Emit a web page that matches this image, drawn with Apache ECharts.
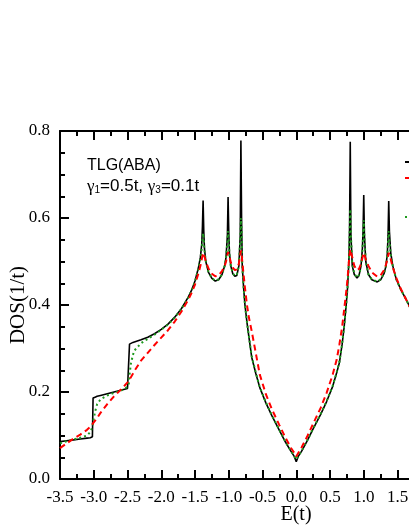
<!DOCTYPE html>
<html>
<head>
<meta charset="utf-8">
<script src="https://cdn.jsdelivr.net/npm/echarts@6/dist/echarts.min.js"></script>
<style>
  html, body { margin: 0; padding: 0; background: #fff; }
  #chart { width: 409px; height: 529px; }
</style>
</head>
<body>
<div id="chart"></div>
<script>
// energy grid E(t)
var energy = [
  -3.5, -3.4, -3.3, -3.2, -3.1, -3.05, -3.02, -3.01, -2.98, -2.95,
  -2.9, -2.8, -2.7, -2.6, -2.5, -2.48, -2.47, -2.45, -2.42, -2.4,
  -2.3, -2.2, -2.1, -2.0, -1.9, -1.8, -1.7, -1.6, -1.55, -1.5,
  -1.45, -1.42, -1.40, -1.39, -1.38, -1.37, -1.36, -1.34, -1.3, -1.25,
  -1.2, -1.15, -1.1, -1.06, -1.04, -1.02, -1.01, -1.0, -0.99, -0.97,
  -0.94, -0.91, -0.88, -0.85, -0.83, -0.82, -0.81, -0.80, -0.78, -0.76,
  -0.73, -0.70, -0.66, -0.6, -0.54, -0.45, -0.36, -0.25, -0.16, -0.08,
  -0.03, 0,
  0.03, 0.08, 0.16, 0.25, 0.36, 0.45, 0.54, 0.6, 0.64, 0.68,
  0.71, 0.74, 0.76, 0.78, 0.79, 0.80, 0.81, 0.83, 0.86, 0.90,
  0.93, 0.96, 0.98, 0.99, 1.00, 1.01, 1.03, 1.07, 1.12, 1.2,
  1.25, 1.3, 1.33, 1.35, 1.36, 1.37, 1.38, 1.40, 1.43, 1.48,
  1.55, 1.62, 1.7
];

// black solid
var dosSolid = [
  0.086, 0.088, 0.090, 0.092, 0.094, 0.095, 0.097, 0.186, 0.188, 0.190,
  0.192, 0.196, 0.200, 0.204, 0.208, 0.210, 0.310, 0.312, 0.314, 0.315,
  0.320, 0.326, 0.334, 0.344, 0.356, 0.372, 0.392, 0.418, 0.434, 0.455,
  0.485, 0.510, 0.540, 0.580, 0.640, 0.570, 0.530, 0.500, 0.475, 0.461,
  0.455, 0.458, 0.470, 0.490, 0.510, 0.560, 0.648, 0.570, 0.520, 0.490,
  0.472, 0.466, 0.468, 0.490, 0.560, 0.778, 0.600, 0.490, 0.440, 0.400,
  0.360, 0.325, 0.280, 0.243, 0.210, 0.175, 0.145, 0.112, 0.085, 0.064,
  0.052, 0.040,
  0.052, 0.064, 0.087, 0.115, 0.148, 0.178, 0.213, 0.245, 0.268, 0.310,
  0.350, 0.400, 0.440, 0.500, 0.580, 0.775, 0.560, 0.490, 0.470, 0.462,
  0.468, 0.490, 0.530, 0.570, 0.653, 0.560, 0.500, 0.470, 0.458, 0.453,
  0.458, 0.472, 0.490, 0.520, 0.560, 0.639, 0.570, 0.520, 0.490, 0.460,
  0.435, 0.415, 0.390
];

// red dashed
var dosDashed = [
  0.071, 0.082, 0.093, 0.102, 0.113, 0.120, 0.126, 0.128, 0.134, 0.140,
  0.152, 0.172, 0.190, 0.205, 0.222, 0.226, 0.229, 0.234, 0.242, 0.248,
  0.272, 0.290, 0.308, 0.325, 0.342, 0.362, 0.385, 0.412, 0.428, 0.447,
  0.472, 0.490, 0.505, 0.513, 0.520, 0.518, 0.512, 0.500, 0.484, 0.472,
  0.466, 0.468, 0.478, 0.490, 0.500, 0.515, 0.522, 0.520, 0.512, 0.498,
  0.486, 0.480, 0.482, 0.495, 0.515, 0.525, 0.520, 0.500, 0.470, 0.440,
  0.400, 0.370, 0.340, 0.290, 0.240, 0.195, 0.160, 0.124, 0.095, 0.072,
  0.060, 0.052,
  0.060, 0.073, 0.097, 0.127, 0.163, 0.198, 0.240, 0.275, 0.310, 0.350,
  0.390, 0.430, 0.460, 0.500, 0.515, 0.528, 0.525, 0.510, 0.490, 0.480,
  0.483, 0.495, 0.508, 0.515, 0.520, 0.518, 0.505, 0.490, 0.475, 0.465,
  0.468, 0.480, 0.493, 0.505, 0.512, 0.520, 0.518, 0.505, 0.487, 0.463,
  0.437, 0.415, 0.390
];

// green dotted
var dosDotted = [
  0.082, 0.087, 0.091, 0.095, 0.100, 0.108, 0.120, 0.130, 0.155, 0.172,
  0.183, 0.192, 0.198, 0.203, 0.212, 0.220, 0.240, 0.265, 0.285, 0.295,
  0.312, 0.322, 0.332, 0.343, 0.355, 0.371, 0.391, 0.417, 0.433, 0.454,
  0.483, 0.506, 0.530, 0.550, 0.565, 0.550, 0.525, 0.500, 0.476, 0.462,
  0.456, 0.459, 0.470, 0.490, 0.508, 0.545, 0.570, 0.550, 0.515, 0.490,
  0.473, 0.467, 0.470, 0.490, 0.550, 0.600, 0.570, 0.490, 0.440, 0.400,
  0.360, 0.327, 0.282, 0.245, 0.211, 0.176, 0.146, 0.113, 0.086, 0.065,
  0.053, 0.045,
  0.053, 0.065, 0.088, 0.116, 0.149, 0.179, 0.214, 0.246, 0.270, 0.312,
  0.352, 0.400, 0.440, 0.500, 0.560, 0.620, 0.560, 0.495, 0.472, 0.463,
  0.469, 0.490, 0.525, 0.560, 0.595, 0.555, 0.500, 0.470, 0.459, 0.454,
  0.459, 0.473, 0.490, 0.515, 0.545, 0.570, 0.550, 0.515, 0.489, 0.460,
  0.435, 0.415, 0.390
];

var seriesNames = ['solid', 'dashed', 'dotted'];

function pairs(vals) {
  return energy.map(function (e, i) { return [e, vals[i]]; });
}

var serif = 'Liberation Serif';
var tickLabel = { color: '#000', fontFamily: serif, fontSize: 17 };

function xLabel(v) {
  var k = v * 2;
  return Math.abs(k - Math.round(k)) < 1e-6 ? v.toFixed(1) : '';
}

var axisBase = {
  type: 'value',
  min: -3.5,
  max: 1.7,
  interval: 0.5,
  axisLine: { show: true, onZero: false, lineStyle: { color: '#000', width: 2 } },
  axisTick: { show: true, inside: true, length: 9, lineStyle: { color: '#000', width: 2 } },
  minorTick: { show: true, splitNumber: 2, length: 5, lineStyle: { color: '#000', width: 2 } },
  splitLine: { show: false }
};

var option = {
  animation: false,
  backgroundColor: '#fff',
  grid: { left: 60, top: 131, width: 351, height: 348, outerBoundsMode: 'none', containLabel: false },
  legend: [0, 1, 2].map(function (i) {
    return {
      data: [seriesNames[i]],
      left: 404,
      top: [155, 171, 210][i],
      padding: 0,
      itemWidth: 22,
      itemHeight: 14,
      textStyle: { fontSize: 14 }
    };
  }),
  xAxis: [
    Object.assign({}, axisBase, {
      position: 'bottom',
      axisLabel: Object.assign({ margin: 10, formatter: xLabel }, tickLabel)
    }),
    Object.assign({}, axisBase, {
      position: 'top',
      axisLabel: { show: false }
    })
  ],
  yAxis: {
    type: 'value',
    min: 0,
    max: 0.8,
    interval: 0.2,
    axisLine: { show: true, onZero: false, lineStyle: { color: '#000', width: 2 } },
    axisTick: { show: true, inside: true, length: 9, lineStyle: { color: '#000', width: 2 } },
    minorTick: { show: true, splitNumber: 4, length: 5, lineStyle: { color: '#000', width: 2 } },
    splitLine: { show: false },
    axisLabel: Object.assign({
      margin: 10,
      formatter: function (v) { return v.toFixed(1); }
    }, tickLabel)
  },
  graphic: [
    {
      type: 'text', left: 87, top: 158,
      style: { text: 'TLG(ABA)', font: '16px "Liberation Sans"', fill: '#000' }
    },
    {
      type: 'text', left: 87, top: 178,
      style: {
        text: '{g|γ}{s|1}{t|=0.5t, }{g|γ}{s|3}{t|=0.1t}',
        rich: {
          g: { font: '17px "Liberation Serif"', fill: '#000', verticalAlign: 'bottom', lineHeight: 19 },
          s: { font: '10px "Liberation Sans"', fill: '#000', verticalAlign: 'bottom', lineHeight: 15 },
          t: { font: '17px "Liberation Sans"', fill: '#000', verticalAlign: 'bottom', lineHeight: 19 }
        }
      }
    },
    {
      type: 'text', x: 296, y: 515,
      style: { text: 'E(t)', font: '20px "Liberation Serif"', fill: '#000', align: 'center', verticalAlign: 'middle' }
    },
    {
      type: 'text', x: 18, y: 305, rotation: Math.PI / 2,
      style: { text: 'DOS(1/t)', font: '21px "Liberation Serif"', fill: '#000', align: 'center', verticalAlign: 'middle' }
    }
  ],
  series: [
    {
      name: seriesNames[0], type: 'line', symbol: 'none', data: pairs(dosSolid),
      lineStyle: { color: '#000', width: 1.6 }, itemStyle: { color: '#000' }, z: 2
    },
    {
      name: seriesNames[2], type: 'line', symbol: 'none', data: pairs(dosDotted),
      lineStyle: { color: '#1e9a1e', width: 2, type: [2, 3] }, itemStyle: { color: '#1e9a1e' }, z: 3
    },
    {
      name: seriesNames[1], type: 'line', symbol: 'none', data: pairs(dosDashed),
      lineStyle: { color: '#ff0000', width: 2, type: [6, 4] }, itemStyle: { color: '#ff0000' }, z: 4
    }
  ]
};

var myChart = echarts.init(document.getElementById('chart'));
myChart.setOption(option);
</script>
</body>
</html>
